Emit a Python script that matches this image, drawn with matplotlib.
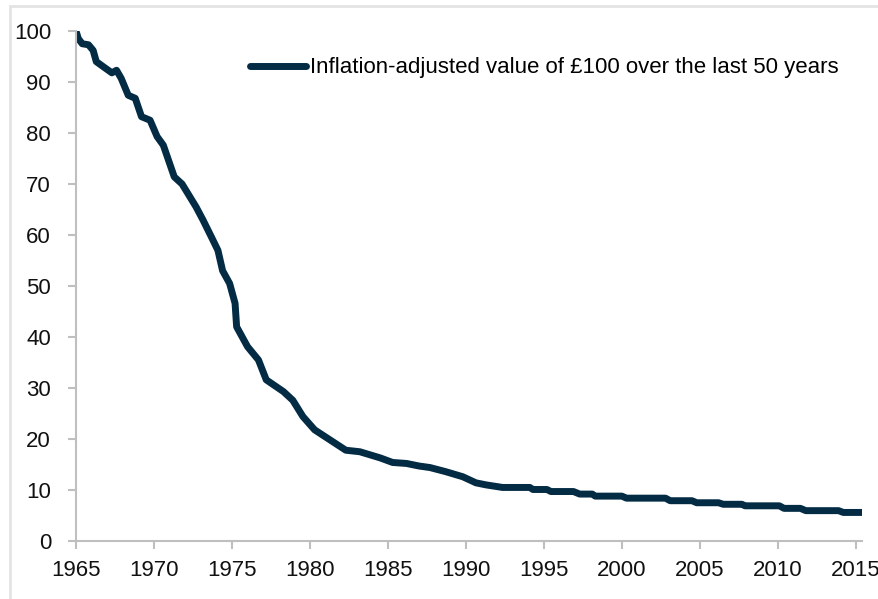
import matplotlib
matplotlib.use('Agg')
import matplotlib.pyplot as plt
from matplotlib.patches import Rectangle

# value of £100 (year, index)
years = [1965.0, 1965.15, 1965.4, 1965.8, 1966.1, 1966.3, 1966.75, 1967.3, 1967.6, 1967.9,
         1968.35, 1968.8, 1969.2, 1969.75, 1970.2, 1970.6, 1971.3, 1971.8, 1972.3, 1972.7,
         1973.15, 1973.7, 1974.1, 1974.4, 1974.85, 1975.2, 1975.3, 1976.0, 1976.7, 1977.2,
         1978.3, 1978.9, 1979.55, 1980.3, 1981.3, 1982.3, 1983.2, 1984.5, 1985.3, 1986.2,
         1987.0, 1987.7, 1988.7, 1989.8, 1990.65, 1991.3, 1992.35, 1994.1, 1994.3, 1995.2,
         1995.45, 1996.9, 1997.3, 1998.1, 1998.3, 2000.0, 2000.3, 2002.8, 2003.1, 2004.5,
         2004.8, 2006.2, 2006.5, 2007.7, 2007.9, 2010.1, 2010.4, 2011.45, 2011.8, 2013.9,
         2014.2, 2015.4]
values = [100.0, 98.5, 97.5, 97.3, 96.2, 94.0, 93.0, 91.8, 92.3, 90.7,
          87.4, 86.8, 83.2, 82.5, 79.3, 77.6, 71.4, 70.0, 67.5, 65.5,
          62.9, 59.5, 57.0, 53.0, 50.5, 46.6, 42.0, 38.1, 35.5, 31.6,
          29.3, 27.6, 24.4, 21.8, 19.8, 17.8, 17.5, 16.3, 15.4, 15.2,
          14.7, 14.4, 13.6, 12.6, 11.4, 11.0, 10.5, 10.5, 10.1, 10.1,
          9.7, 9.7, 9.2, 9.2, 8.8, 8.8, 8.4, 8.4, 7.9, 7.9,
          7.5, 7.5, 7.2, 7.2, 6.9, 6.9, 6.4, 6.4, 5.95, 5.95,
          5.6, 5.6]
x_ticks = list(range(1965, 2016, 5))
y_ticks = list(range(0, 101, 10))
label = 'Inflation-adjusted value of £100 over the last 50 years'

plt.rcParams['font.family'] = ['Liberation Sans', 'DejaVu Sans']
LINE_COLOR = '#032b44'
AXIS_GREY = '#bfbfbf'

fig = plt.figure(figsize=(8.79, 5.99), dpi=100)
ax = fig.add_axes([76/879, 1 - 541/599, (862 - 76)/879, (541 - 31)/599])

ax.plot(years, values, color=LINE_COLOR, linewidth=5, solid_capstyle='round',
        solid_joinstyle='round', label=label)

ax.set_xlim(1965, 2015.4)
ax.set_ylim(0, 100)
ax.set_xticks(x_ticks)
ax.set_yticks(y_ticks)
ax.tick_params(axis='both', colors=AXIS_GREY, labelcolor='#111111', labelsize=16,
               length=6, width=1.5)
ax.tick_params(axis='x', pad=8)
ax.tick_params(axis='y', pad=12)
for side in ['top', 'right']:
    ax.spines[side].set_visible(False)
for side in ['left', 'bottom']:
    ax.spines[side].set_color(AXIS_GREY)
    ax.spines[side].set_linewidth(1.5)

ax.legend(loc='center left', bbox_to_anchor=(250/879, 1 - 68/599),
          bbox_transform=fig.transFigure, frameon=False, fontsize=16,
          borderpad=0, borderaxespad=0, handlelength=2.5, handletextpad=0.2)

# light frame around the whole figure
fig.patches.append(Rectangle((10/879, -0.05), 1.0, 1 - 6/599 + 0.05,
                             transform=fig.transFigure, fill=False,
                             edgecolor='#e3e3e3', linewidth=2))

fig.savefig('out.png', dpi=100)
